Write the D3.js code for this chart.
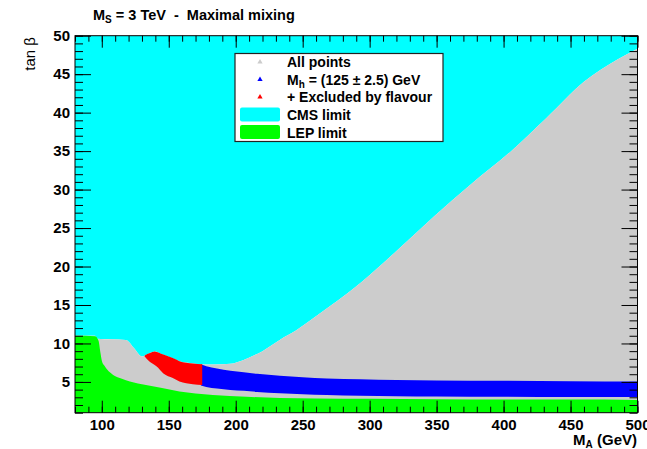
<!DOCTYPE html>
<html>
<head>
<meta charset="utf-8">
<script src="https://cdn.jsdelivr.net/npm/d3@7"></script>
<style>
  body { margin: 0; background: #fff; }
  text { font-family: "Liberation Sans", Arial, sans-serif; }
  .bold { font-weight: bold; }
</style>
</head>
<body>
<svg id="chart" width="647" height="449"></svg>
<script>
// tick labels
var xTicks = [100, 150, 200, 250, 300, 350, 400, 450, 500];
var yTicks = [5, 10, 15, 20, 25, 30, 35, 40, 45, 50];

// CMS limit: lower edge of the excluded (cyan) region, [M_A, tan beta]
var cmsLimit = [
  [80, 11.0], [95, 11.0], [96.5, 10.6], [118, 10.45], [124, 9.4], [130, 8.3],
  [133, 8.5], [139.5, 8.95], [145, 8.6], [151, 8.2], [158, 7.7], [166, 7.45],
  [173, 7.3], [185, 7.25], [196, 7.35], [205, 7.8], [213, 8.4], [220, 9.0],
  [228, 9.9], [236, 10.8], [245, 11.7], [254, 12.8], [270, 14.8], [294, 18.0],
  [318, 21.7], [348, 26.5], [375, 30.6], [405, 34.9], [432, 39.3], [460, 44.0],
  [485, 46.9], [500, 48.3]
];

// LEP limit: upper edge of the green region
var lepLimit = [
  [80, 11.0], [95, 10.95], [97.5, 10.4], [99, 8.8], [100, 7.8], [102, 7.1],
  [104, 6.6], [108.5, 5.9], [115, 5.4], [121, 5.05], [133, 4.6], [145, 4.2],
  [158, 3.75], [170, 3.5], [183, 3.3], [208, 3.08], [233, 2.9], [260, 2.85],
  [300, 2.8], [350, 2.75], [400, 2.7], [450, 2.7], [500, 2.65]
];

// M_h = 125 +- 2.5 GeV band, [M_A, low, high]
var higgsBand = [
  [174, 4.55, 7.3], [178, 4.35, 7.05], [186, 4.15, 6.75], [196, 3.95, 6.45],
  [206, 3.85, 6.25], [216, 3.7, 6.05], [233, 3.52, 5.8], [250, 3.4, 5.6],
  [268, 3.3, 5.45], [293, 3.2, 5.35], [320, 3.15, 5.25], [350, 3.12, 5.2],
  [400, 3.08, 5.15], [450, 3.05, 5.1], [500, 3.05, 5.05]
];

// excluded by flavour, [M_A, low, high]
var flavourBand = [
  [132, 8.3, 8.45], [136, 7.6, 8.75], [139.5, 7.2, 8.95], [141, 7.0, 8.9],
  [146, 6.1, 8.55], [153, 5.5, 8.1], [158, 5.05, 7.7], [163, 4.82, 7.5],
  [168, 4.7, 7.4], [175, 4.6, 7.3]
];

var legendItems = [
  { label: "All points", kind: "marker", color: "#cccccc" },
  { label: "Mh", kind: "marker", color: "#0000ff" },
  { label: "+ Excluded by flavour", kind: "marker", color: "#ff0000" },
  { label: "CMS limit", kind: "box", color: "#00ffff" },
  { label: "LEP limit", kind: "box", color: "#00ff00" }
];

var svg = d3.select("#chart");
var x = d3.scaleLinear().domain([80, 500]).range([75, 637.5]);
var y = d3.scaleLinear().domain([1, 50]).range([412.7, 35.7]);

var plot = svg.append("g");
plot.append("clipPath").attr("id", "clip")
  .append("rect").attr("x", 75).attr("y", 35.7).attr("width", 562.5).attr("height", 377);
var regions = plot.append("g").attr("clip-path", "url(#clip)");

var curve = d3.curveMonotoneX;

// cyan above the CMS edge
regions.append("path")
  .datum(cmsLimit)
  .attr("fill", "#00ffff")
  .attr("d", d3.area().curve(curve).x(function (d) { return x(d[0]); })
    .y0(y(50)).y1(function (d) { return y(d[1]); }));

// all points, below the CMS edge
regions.append("path")
  .datum(cmsLimit)
  .attr("fill", "#cccccc")
  .attr("d", d3.area().curve(curve).x(function (d) { return x(d[0]); })
    .y0(y(1)).y1(function (d) { return y(d[1]); }));

var band = d3.area().curve(curve)
  .x(function (d) { return x(d[0]); })
  .y0(function (d) { return y(d[1]); })
  .y1(function (d) { return y(d[2]); });

regions.append("path").datum(higgsBand).attr("fill", "#0000ff").attr("d", band);
regions.append("path").datum(flavourBand).attr("fill", "#ff0000").attr("d", band);

regions.append("path")
  .datum(lepLimit)
  .attr("fill", "#00ff00")
  .attr("d", d3.area().curve(curve).x(function (d) { return x(d[0]); })
    .y0(y(1)).y1(function (d) { return y(d[1]); }));

// axes, ROOT style: ticks inside on all four sides
var xMinor = d3.range(80, 501, 10);
var yMinor = d3.range(1, 51, 1);

function styleAxis(g) {
  g.select(".domain").remove();
  g.selectAll("line").attr("stroke", "#000");
  g.selectAll("text").attr("class", "bold").attr("font-size", 15).attr("fill", "#000");
}

svg.append("g").attr("transform", "translate(0," + y(1) + ")")
  .call(d3.axisBottom(x).tickValues(xMinor).tickSize(-6).tickFormat(""))
  .call(styleAxis);
svg.append("g").attr("transform", "translate(0," + y(1) + ")")
  .call(d3.axisBottom(x).tickValues(xTicks).tickSize(-12).tickPadding(7))
  .call(styleAxis);
svg.append("g").attr("transform", "translate(0," + y(50) + ")")
  .call(d3.axisTop(x).tickValues(xMinor).tickSize(-6).tickFormat(""))
  .call(styleAxis);
svg.append("g").attr("transform", "translate(0," + y(50) + ")")
  .call(d3.axisTop(x).tickValues(xTicks).tickSize(-12).tickFormat(""))
  .call(styleAxis);

svg.append("g").attr("transform", "translate(" + x(80) + ",0)")
  .call(d3.axisLeft(y).tickValues(yMinor).tickSize(-8).tickFormat(""))
  .call(styleAxis);
svg.append("g").attr("transform", "translate(" + x(80) + ",0)")
  .call(d3.axisLeft(y).tickValues(yTicks).tickSize(-16).tickPadding(5))
  .call(styleAxis);
svg.append("g").attr("transform", "translate(" + x(500) + ",0)")
  .call(d3.axisRight(y).tickValues(yMinor).tickSize(-8).tickFormat(""))
  .call(styleAxis);
svg.append("g").attr("transform", "translate(" + x(500) + ",0)")
  .call(d3.axisRight(y).tickValues(yTicks).tickSize(-16).tickFormat(""))
  .call(styleAxis);

// frame
svg.append("rect")
  .attr("x", x(80)).attr("y", y(50))
  .attr("width", x(500) - x(80)).attr("height", y(1) - y(50))
  .attr("fill", "none").attr("stroke", "#000").attr("stroke-width", 1);

// title
var title = svg.append("text").attr("class", "bold")
  .attr("x", 93).attr("y", 20).attr("font-size", 14.5)
  .style("white-space", "pre");
title.append("tspan").text("M");
title.append("tspan").attr("font-size", 10).attr("dy", 3).text("S");
title.append("tspan").attr("dy", -3).text(" = 3 TeV  -  Maximal mixing");

// axis titles
var xt = svg.append("text").attr("class", "bold")
  .attr("x", 637).attr("y", 445).attr("font-size", 15).attr("text-anchor", "end");
xt.append("tspan").text("M");
xt.append("tspan").attr("font-size", 10).attr("dy", 3).text("A");
xt.append("tspan").attr("dy", -3).text(" (GeV)");

svg.append("text")
  .attr("transform", "translate(35,37) rotate(-90)")
  .attr("text-anchor", "end").attr("font-size", 15)
  .text("tan \u03b2");

// legend
var lg = svg.append("g");
lg.append("rect")
  .attr("x", 235).attr("y", 53.5).attr("width", 208).attr("height", 88)
  .attr("fill", "#fff").attr("stroke", "#222").attr("stroke-width", 1.2);

var rowY = [62, 79.5, 97, 115, 132.5];
legendItems.forEach(function (item, i) {
  var cy = rowY[i];
  if (item.kind === "marker") {
    lg.append("path")
      .attr("d", d3.symbol().type(d3.symbolTriangle).size(12)())
      .attr("transform", "translate(260," + cy + ")")
      .attr("fill", item.color);
  } else {
    lg.append("rect")
      .attr("x", 240).attr("y", cy - 7.5).attr("width", 40).attr("height", 14)
      .attr("rx", 2).attr("fill", item.color);
  }
  var t = lg.append("text").attr("class", "bold")
    .attr("x", 287).attr("y", cy + 5).attr("font-size", 14);
  if (item.label === "Mh") {
    t.append("tspan").text("M");
    t.append("tspan").attr("font-size", 10).attr("dy", 3).text("h");
    t.append("tspan").attr("dy", -3).text(" = (125 \u00b1 2.5) GeV");
  } else {
    t.text(item.label);
  }
});
</script>
</body>
</html>
